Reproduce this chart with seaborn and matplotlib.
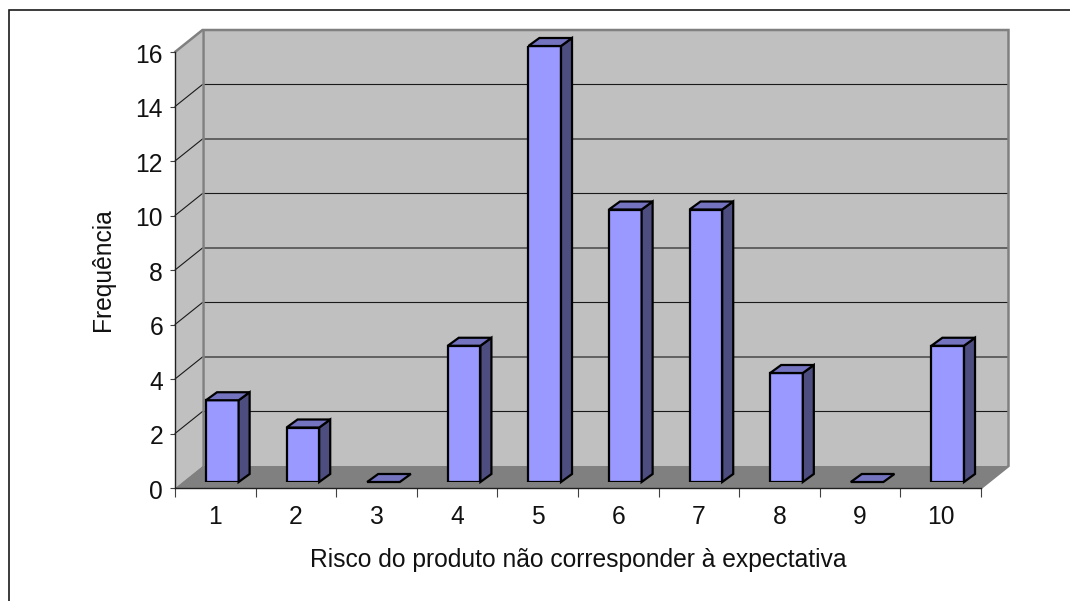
import matplotlib
matplotlib.use("Agg")
import matplotlib.pyplot as plt
from matplotlib.patches import Polygon
from matplotlib.transforms import IdentityTransform, ScaledTranslation
import seaborn as sns
import pandas as pd

# Survey responses
categories = ["1", "2", "3", "4", "5", "6", "7", "8", "9", "10"]
frequencies = [3, 2, 0, 5, 16, 10, 10, 4, 0, 5]
y_ticks = [0, 2, 4, 6, 8, 10, 12, 14, 16]
x_title = "Risco do produto não corresponder à expectativa"
y_title = "Frequência"

W, H = 1070, 601
FRONT_L, FRONT_R, FRONT_B, FRONT_T = 175, 981, 488, 52
DEPTH_X, DEPTH_Y = 27.5, 22
BAR_DX, BAR_DY = 7, 6
SIDE_DX, SIDE_DY = 11, 8
FONT_SIZE = 17.75

sns.set_theme(style="white")
plt.rcParams["font.family"] = ["Liberation Sans", "DejaVu Sans"]

fig = plt.figure(figsize=(W / 100, H / 100), dpi=100, facecolor="white")


def rect(l, r, b, t):
    return [l / W, 1 - b / H, (r - l) / W, (b - t) / H]


def px(pts):
    return [(x, H - y) for x, y in pts]


# Axes on the front plane carry ticks and labels
ax = fig.add_axes(rect(FRONT_L, FRONT_R, FRONT_B, FRONT_T))
ax.set_xlim(-0.5, 9.5)
ax.set_ylim(0, 16)
ax.patch.set_alpha(0)
for side in ("top", "right"):
    ax.spines[side].set_visible(False)
for side in ("left", "bottom"):
    ax.spines[side].set_color("#202020")
    ax.spines[side].set_linewidth(1.0)
ax.set_xticks([i - 0.5 for i in range(11)], labels=[])
ax.set_xticks(range(10), labels=categories, minor=True)
ax.tick_params(axis="x", which="major", length=6.5, width=0.8, color="#404040", bottom=True)
ax.tick_params(axis="x", which="minor", length=0, labelsize=FONT_SIZE, pad=12.5, colors="#111111")
ax.set_yticks(y_ticks)
ax.tick_params(axis="y", length=3.6, width=0.8, color="#404040", left=True, labelsize=FONT_SIZE, pad=5, labelcolor="#111111")
ax.set_xlabel(x_title, fontsize=FONT_SIZE, labelpad=13.5, color="#111111")
ax.set_ylabel(y_title, fontsize=FONT_SIZE, labelpad=15, color="#111111")

# Nudge the value labels down so they centre on their ticks
nudge = ScaledTranslation(0, -1.2 / 100, fig.dpi_scale_trans)
for label in ax.get_yticklabels():
    label.set_transform(label.get_transform() + nudge)

# Walls, floor and gridlines of the box behind the bars
bg = fig.add_axes([0, 0, 1, 1], zorder=-1)
bg.set_axis_off()
bg.set_xlim(0, W)
bg.set_ylim(0, H)
unit = (FRONT_B - FRONT_T) / 16
bL, bR = FRONT_L + DEPTH_X, FRONT_R + DEPTH_X
bB, bT = FRONT_B - DEPTH_Y, FRONT_T - DEPTH_Y
bg.add_patch(Polygon(px([(bL, bT), (bR, bT), (bR, bB), (bL, bB)]), fc="#C0C0C0", ec="none"))
bg.add_patch(Polygon(px([(FRONT_L, FRONT_T), (bL, bT), (bL, bB), (FRONT_L, FRONT_B)]), fc="#C0C0C0", ec="none"))
bg.add_patch(Polygon(px([(FRONT_L, FRONT_B), (bL, bB), (bR, bB), (FRONT_R, FRONT_B)]), fc="#808080", ec="none"))
for v in y_ticks[1:-1]:
    yb = bB - v * unit
    yf = FRONT_B - v * unit
    bg.plot(*zip(*px([(FRONT_L, yf), (bL, yb), (bR, yb)])), color="#1a1a1a", lw=0.8, solid_joinstyle="miter")
bg.plot(*zip(*px([(FRONT_L, FRONT_T), (bL, bT), (bR, bT), (bR, bB), (FRONT_R, FRONT_B)])), color="#808080", lw=1.8, solid_joinstyle="miter")
bg.plot(*zip(*px([(bL, bT), (bL, bB)])), color="#808080", lw=1.8)

# Outer chart frame, open at the right and bottom
bg.plot(*zip(*px([(9, 601), (9, 9.5), (1070, 9.5)])), color="#1a1a1a", lw=1.2, solid_joinstyle="miter")

# Bars sit on a plane set slightly back from the front edge of the floor
bars_ax = fig.add_axes(rect(FRONT_L + BAR_DX, FRONT_R + BAR_DX, FRONT_B - BAR_DY, FRONT_T - BAR_DY), zorder=3)
frame = pd.DataFrame({"risco": categories, "freq": frequencies})
sns.barplot(data=frame, x="risco", y="freq", order=categories, color="#9999FF", saturation=1,
            width=0.405, edgecolor="black", linewidth=1.6, ax=bars_ax)
bars_ax.set_xlim(-0.5, 9.5)
bars_ax.set_ylim(0, 16)
bars_ax.set_axis_off()

# Side and top faces of each bar, extruded in pixel space
fig.canvas.draw()
for bar in bars_ax.patches:
    (x0, y0), (x1, y1) = bars_ax.transData.transform(bar.get_bbox().get_points())
    d = [SIDE_DX, SIDE_DY]
    side = [(x1, y0), (x1 + d[0], y0 + d[1]), (x1 + d[0], y1 + d[1]), (x1, y1)]
    top = [(x0, y1), (x0 + d[0], y1 + d[1]), (x1 + d[0], y1 + d[1]), (x1, y1)]
    style = dict(ec="black", lw=1.6, joinstyle="miter", transform=IdentityTransform(), clip_on=False)
    if y1 - y0 > 0.5:
        bars_ax.add_patch(Polygon(side, fc="#4D4D80", **style))
    bars_ax.add_patch(Polygon(top, fc="#7373BF", **style))

fig.savefig("out.png", dpi=100)
